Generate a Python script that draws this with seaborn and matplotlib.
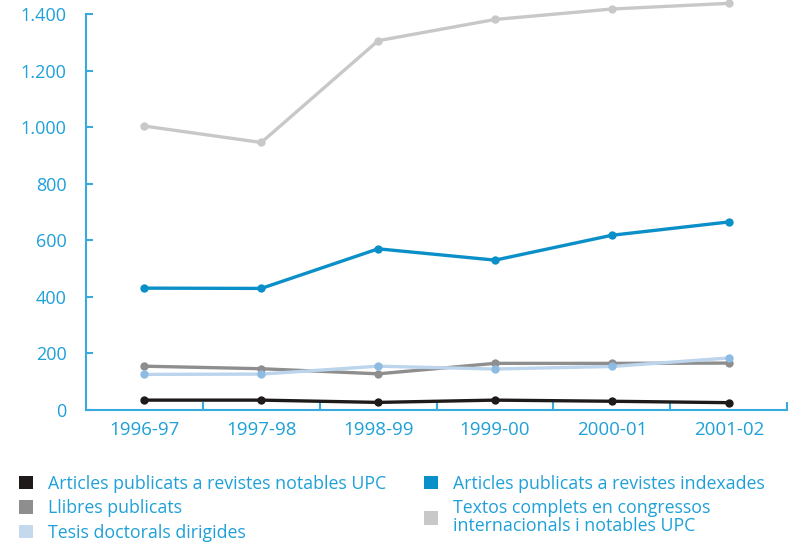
import pandas as pd
import numpy as np
import matplotlib
matplotlib.use("Agg")
import matplotlib.pyplot as plt
import matplotlib.ticker as mticker
from matplotlib.patches import Patch
import seaborn as sns

years = ["1996-97", "1997-98", "1998-99", "1999-00", "2000-01", "2001-02"]
textos_congressos = [1004, 946, 1306, 1381, 1418, 1438]
articles_indexades = [431, 430, 570, 530, 618, 665]
llibres = [155, 146, 128, 165, 165, 166]
tesis = [126, 127, 155, 145, 154, 184]
articles_notables = [35, 35, 27, 35, 31, 26]

names = {
    "notables": "Articles publicats a revistes notables UPC",
    "llibres": "Llibres publicats",
    "tesis": "Tesis doctorals dirigides",
    "indexades": "Articles publicats a revistes indexades",
    "textos": "Textos complets en congressos\ninternacionals i notables UPC",
}
colors = {
    "textos": "#c8c8c8",
    "indexades": "#0a8fc8",
    "llibres": "#8e8e8e",
    "tesis": "#bcd4ec",
    "notables": "#1e1a1a",
}
marker_colors = {"tesis": "#8dbbe2"}
text_color = "#1ea0d8"
axis_color = "#38aadc"

series = {
    "textos": textos_congressos,
    "indexades": articles_indexades,
    "llibres": llibres,
    "tesis": tesis,
    "notables": articles_notables,
}
df = pd.concat(
    [pd.DataFrame({"any": years, "valor": v, "serie": k}) for k, v in series.items()],
    ignore_index=True,
)

sns.set_style("white")
plt.rcParams["font.family"] = ["Open Sans", "DejaVu Sans"]

fig = plt.figure(figsize=(7.96, 5.42), dpi=100)
ax = fig.add_axes([0.108, 0.2435, 0.881, 0.7305])

draw_order = ["textos", "indexades", "llibres", "tesis", "notables"]
sns.lineplot(data=df, x="any", y="valor", hue="serie", hue_order=draw_order,
             palette=colors, marker="o", markersize=6, markeredgewidth=0,
             linewidth=2.4, ax=ax, legend=False, sort=False)
for line, key in zip(ax.get_lines(), draw_order):
    line.set_clip_on(False)
    if key in marker_colors:
        line.set_markerfacecolor(marker_colors[key])

ax.set_xlim(-0.5, 5.5)
ax.set_ylim(0, 1400)
ax.set_xlabel("")
ax.set_ylabel("")
ax.yaxis.set_major_locator(mticker.MultipleLocator(200))
ax.yaxis.set_major_formatter(mticker.FuncFormatter(lambda v, p: f"{int(v):,}".replace(",", ".")))
ax.xaxis.set_minor_locator(mticker.FixedLocator(np.arange(0.5, 6, 1)))

for s in ["top", "right"]:
    ax.spines[s].set_visible(False)
for s in ["left", "bottom"]:
    ax.spines[s].set_color(axis_color)
    ax.spines[s].set_linewidth(1.5)

ax.tick_params(axis="y", direction="in", length=5, width=1.5, color=axis_color,
               labelcolor=text_color, labelsize=13, pad=14, left=True)
ax.tick_params(axis="x", which="major", length=0, labelcolor=text_color,
               labelsize=13.5, pad=8)
ax.tick_params(axis="x", which="minor", direction="in", length=6, width=1.5,
               color=axis_color, bottom=True)

legend_keys = ["notables", "llibres", "tesis", "indexades", "textos"]
handles = [Patch(facecolor=colors[k] if k != "tesis" else "#c4d8ee", edgecolor="none")
           for k in legend_keys]
leg = fig.legend(handles, [names[k] for k in legend_keys], ncol=2,
                 loc="upper left", bbox_to_anchor=(0.024, 0.124), frameon=False,
                 fontsize=12.8, handlelength=0.8, handleheight=0.8, handletextpad=0.85,
                 columnspacing=2.1, labelspacing=0.36, borderpad=0, borderaxespad=0)
for t in leg.get_texts():
    t.set_color(text_color)
    t.set_linespacing(1.0)

fig.savefig("out.png", dpi=100)
